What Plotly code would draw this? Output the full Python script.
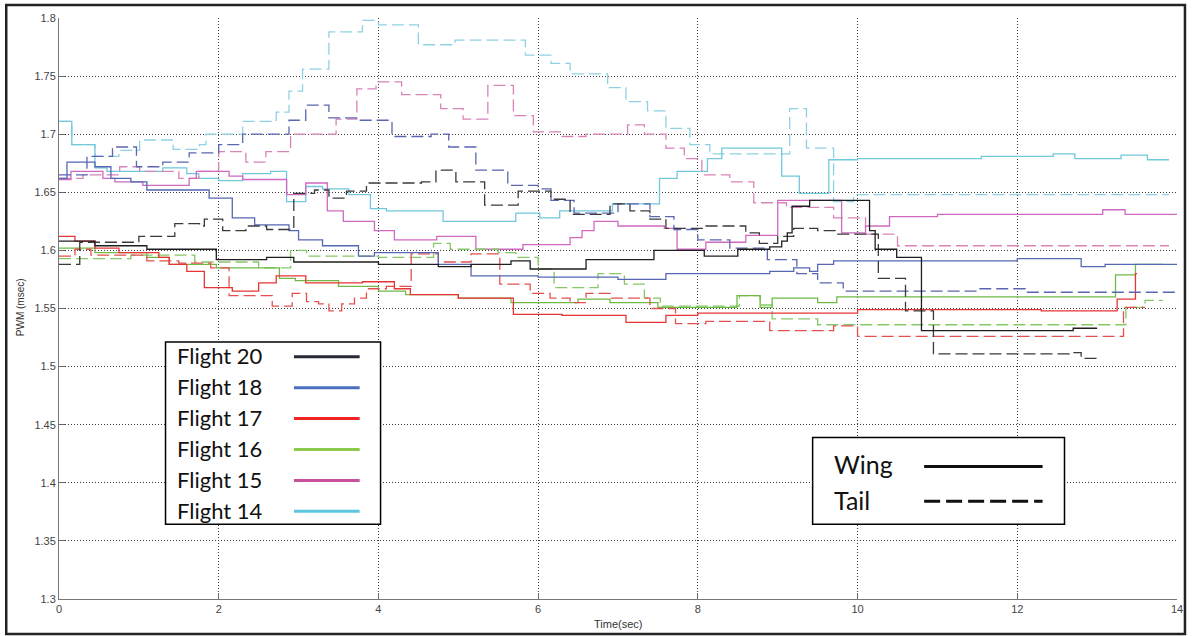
import plotly.graph_objects as go

# ---- step data: switch times (sec) and PWM levels (msec) ----
f20_wing_t = [0, 0.45, 1.1, 1.97, 2.6, 2.94, 4.0, 4.75, 5.16, 5.66, 5.9, 6.6, 7.45, 8.08, 8.5, 8.9, 9.05, 9.12, 9.18, 9.4, 10.15, 10.22, 10.49, 10.8, 12.7, 13.0]
f20_wing_v = [1.608, 1.604, 1.601, 1.592, 1.594, 1.590, 1.588, 1.586, 1.588, 1.591, 1.584, 1.592, 1.600, 1.595, 1.601, 1.603, 1.608, 1.615, 1.638, 1.643, 1.617, 1.601, 1.594, 1.531, 1.533, 1.533]
f20_tail_t = [0, 0.26, 1.0, 1.45, 1.76, 1.82, 2.05, 2.34, 2.6, 2.94, 3.2, 3.38, 3.6, 3.85, 4.54, 4.72, 4.97, 5.33, 5.75, 6.16, 6.4, 6.9, 7.15, 7.4, 7.6, 8.1, 8.6, 8.77, 9.0, 9.2, 9.5, 9.74, 10.26, 10.6, 10.95, 12.65, 12.8, 13.0]
f20_tail_v = [1.588, 1.607, 1.612, 1.623, 1.621, 1.627, 1.617, 1.621, 1.618, 1.649, 1.652, 1.645, 1.651, 1.658, 1.659, 1.669, 1.659, 1.639, 1.651, 1.644, 1.631, 1.640, 1.634, 1.627, 1.619, 1.621, 1.615, 1.606, 1.612, 1.619, 1.617, 1.614, 1.576, 1.548, 1.511, 1.512, 1.507, 1.507]

f18_wing_t = [0, 0.1, 0.45, 0.65, 0.9, 1.1, 1.88, 2.17, 2.45, 2.88, 3.0, 3.3, 3.75, 3.95, 4.75, 5.16, 6.0, 7.0, 7.6, 8.0, 8.9, 9.2, 9.4, 9.5, 9.7, 12.0, 12.8, 13.1, 14.0]
f18_wing_v = [1.662, 1.676, 1.672, 1.662, 1.659, 1.652, 1.645, 1.628, 1.622, 1.617, 1.609, 1.604, 1.595, 1.598, 1.588, 1.578, 1.577, 1.575, 1.580, 1.580, 1.582, 1.585, 1.582, 1.588, 1.591, 1.593, 1.586, 1.588, 1.588]
f18_tail_t = [0, 0.35, 0.67, 0.97, 1.3, 1.63, 2.0, 2.3, 2.88, 3.09, 3.38, 3.75, 4.17, 4.66, 4.88, 5.22, 5.62, 6.0, 6.16, 6.45, 7.0, 7.4, 7.7, 8.0, 8.4, 8.87, 9.24, 9.5, 9.82, 11.5, 12.1, 14.0]
f18_tail_v = [1.665, 1.681, 1.689, 1.672, 1.676, 1.684, 1.691, 1.700, 1.712, 1.725, 1.714, 1.712, 1.698, 1.700, 1.689, 1.669, 1.656, 1.653, 1.643, 1.632, 1.640, 1.629, 1.618, 1.609, 1.602, 1.592, 1.580, 1.572, 1.565, 1.567, 1.564, 1.564]

f17_wing_t = [0, 0.2, 0.45, 0.75, 1.25, 1.38, 1.6, 1.82, 2.17, 2.5, 2.72, 3.09, 3.8, 4.2, 4.4, 5.0, 5.69, 6.3, 7.1, 7.6, 8.0, 10.0, 12.3, 13.25, 13.48, 13.5]
f17_wing_v = [1.612, 1.608, 1.602, 1.598, 1.594, 1.588, 1.582, 1.568, 1.565, 1.572, 1.578, 1.572, 1.573, 1.567, 1.562, 1.559, 1.545, 1.544, 1.538, 1.544, 1.546, 1.549, 1.548, 1.558, 1.580, 1.580]
f17_tail_t = [0, 0.2, 0.4, 1.1, 1.5, 1.9, 2.13, 2.67, 2.92, 3.1, 3.25, 3.38, 3.54, 3.7, 3.85, 4.1, 4.41, 4.75, 5.16, 5.52, 5.9, 6.15, 6.4, 6.6, 6.9, 7.4, 7.72, 8.1, 8.9, 9.7, 10.0, 13.33, 13.6]
f17_tail_v = [1.595, 1.601, 1.596, 1.591, 1.589, 1.585, 1.561, 1.552, 1.563, 1.556, 1.554, 1.548, 1.554, 1.559, 1.567, 1.569, 1.597, 1.590, 1.597, 1.571, 1.563, 1.559, 1.555, 1.563, 1.559, 1.550, 1.537, 1.539, 1.531, 1.535, 1.526, 1.551, 1.551]

f16_wing_t = [0, 0.45, 1.1, 1.38, 1.97, 2.76, 2.96, 3.5, 4.0, 4.34, 5.0, 5.66, 6.5, 6.9, 7.5, 8.49, 8.78, 8.93, 9.5, 9.74, 13.23, 13.48, 13.82]
f16_wing_v = [1.602, 1.598, 1.594, 1.588, 1.585, 1.576, 1.574, 1.569, 1.565, 1.562, 1.559, 1.555, 1.558, 1.555, 1.551, 1.561, 1.551, 1.559, 1.555, 1.560, 1.579, 1.588, 1.588]
f16_tail_t = [0, 0.9, 1.7, 2.5, 2.9, 3.1, 4.0, 4.69, 4.9, 5.5, 5.72, 6.0, 6.2, 6.75, 7.08, 7.33, 7.53, 8.52, 8.78, 8.93, 9.5, 13.36, 13.6, 13.82]
f16_tail_v = [1.593, 1.596, 1.590, 1.585, 1.600, 1.595, 1.594, 1.606, 1.601, 1.598, 1.594, 1.584, 1.568, 1.580, 1.571, 1.559, 1.552, 1.561, 1.553, 1.541, 1.536, 1.551, 1.557, 1.557]

f15_wing_t = [0, 0.15, 0.55, 0.7, 1.05, 1.63, 1.72, 2.13, 2.3, 2.85, 3.09, 3.36, 3.56, 3.95, 4.2, 4.73, 5.22, 5.81, 6.4, 6.55, 6.7, 7.0, 7.58, 7.74, 8.1, 8.6, 9.0, 9.8, 10.1, 10.4, 11.0, 13.07, 13.35, 14.0]
f15_wing_v = [1.661, 1.668, 1.662, 1.659, 1.656, 1.662, 1.668, 1.664, 1.661, 1.648, 1.658, 1.634, 1.625, 1.617, 1.609, 1.612, 1.601, 1.605, 1.611, 1.617, 1.625, 1.621, 1.619, 1.601, 1.607, 1.613, 1.643, 1.615, 1.621, 1.629, 1.631, 1.635, 1.631, 1.631]
f15_tail_t = [0, 0.3, 0.76, 1.01, 1.5, 1.75, 2.0, 2.34, 2.59, 2.9, 3.47, 3.73, 3.97, 4.29, 4.78, 5.06, 5.37, 5.69, 5.94, 6.3, 6.6, 7.12, 7.33, 7.6, 7.83, 8.05, 8.4, 8.7, 9.11, 9.7, 10.1, 10.5, 13.9]
f15_tail_v = [1.662, 1.665, 1.672, 1.668, 1.662, 1.668, 1.685, 1.676, 1.685, 1.700, 1.713, 1.739, 1.745, 1.734, 1.722, 1.713, 1.742, 1.716, 1.702, 1.698, 1.700, 1.708, 1.700, 1.688, 1.679, 1.665, 1.659, 1.641, 1.637, 1.628, 1.614, 1.604, 1.604]

f14_wing_t = [0, 0.16, 0.45, 0.6, 1.3, 1.6, 1.75, 2.0, 2.3, 2.65, 2.85, 3.09, 3.3, 3.63, 3.9, 4.1, 4.81, 5.72, 6.02, 6.27, 6.93, 7.52, 7.74, 8.12, 8.3, 9.05, 9.27, 9.64, 10.0, 11.55, 12.45, 12.72, 13.3, 13.63, 13.9]
f14_wing_v = [1.711, 1.691, 1.671, 1.668, 1.671, 1.666, 1.662, 1.660, 1.666, 1.668, 1.642, 1.655, 1.653, 1.648, 1.636, 1.634, 1.625, 1.632, 1.628, 1.634, 1.640, 1.662, 1.668, 1.679, 1.688, 1.664, 1.649, 1.678, 1.679, 1.681, 1.683, 1.679, 1.682, 1.678, 1.678]
f14_tail_t = [0, 0.16, 0.45, 0.75, 1.01, 1.43, 1.76, 1.84, 2.3, 2.72, 2.88, 3.05, 3.38, 3.8, 4.0, 4.5, 4.96, 5.84, 6.16, 6.4, 6.87, 7.1, 7.37, 7.6, 7.9, 8.15, 9.15, 9.36, 9.7, 9.95, 13.9]
f14_tail_v = [1.711, 1.691, 1.681, 1.686, 1.695, 1.687, 1.691, 1.700, 1.711, 1.719, 1.737, 1.756, 1.788, 1.798, 1.794, 1.777, 1.781, 1.768, 1.761, 1.752, 1.740, 1.728, 1.720, 1.705, 1.691, 1.683, 1.722, 1.688, 1.642, 1.648, 1.648]

flight_names = ["Flight 20", "Flight 18", "Flight 17", "Flight 16", "Flight 15", "Flight 14"]
x_ticks = [0, 2, 4, 6, 8, 10, 12, 14]
y_ticks = [1.3, 1.35, 1.4, 1.45, 1.5, 1.55, 1.6, 1.65, 1.7, 1.75, 1.8]
y_tick_text = ["1.3", "1.35", "1.4", "1.45", "1.5", "1.55", "1.6", "1.65", "1.7", "1.75", "1.8"]

# plot colours (wing, tail) and legend swatch colours
line_colors = {
    "Flight 20": ("#1e1e1e", "#3a3a3a"),
    "Flight 18": ("#5468b4", "#5a66b0"),
    "Flight 17": ("#e83434", "#e45050"),
    "Flight 16": ("#6fba45", "#86c866"),
    "Flight 15": ("#d06ac0", "#d884b8"),
    "Flight 14": ("#72c8dc", "#8ed2e2"),
}
swatch_colors = ["#262a36", "#4a6fc0", "#f02424", "#8cc84b", "#c9509d", "#5cc5e0"]

series = [
    ("Flight 14", f14_wing_t, f14_wing_v, f14_tail_t, f14_tail_v),
    ("Flight 15", f15_wing_t, f15_wing_v, f15_tail_t, f15_tail_v),
    ("Flight 16", f16_wing_t, f16_wing_v, f16_tail_t, f16_tail_v),
    ("Flight 17", f17_wing_t, f17_wing_v, f17_tail_t, f17_tail_v),
    ("Flight 18", f18_wing_t, f18_wing_v, f18_tail_t, f18_tail_v),
    ("Flight 20", f20_wing_t, f20_wing_v, f20_tail_t, f20_tail_v),
]

fig = go.Figure()
for name, wt, wv, tt, tv in series:
    wc, tc = line_colors[name]
    fig.add_trace(go.Scatter(x=tt, y=tv, mode="lines", line_shape="hv", name=name + " tail",
                             line=dict(color=tc, width=1.3, dash="12px,5px"), showlegend=False))
    fig.add_trace(go.Scatter(x=wt, y=wv, mode="lines", line_shape="hv", name=name + " wing",
                             line=dict(color=wc, width=1.3), showlegend=False))

W, H = 1195, 636
L, R, T, B = 59, 1182, 16, 599


def px(x):
    return (x - L) / (R - L)


def py(y):
    return (B - y) / (B - T)


shapes = []
annotations = []

# outer frame around the whole figure
shapes.append(dict(type="rect", xref="paper", yref="paper", x0=px(6), x1=px(1190), y0=py(634), y1=py(3),
                   line=dict(color="#222222", width=2.5), layer="below"))

# flight colour key
shapes.append(dict(type="rect", xref="paper", yref="paper", x0=px(166), x1=px(382), y0=py(524), y1=py(341),
                   line=dict(color="#000000", width=1.5), fillcolor="white", layer="above"))
row_y = [355, 386, 417, 448, 479, 510]
for name, col, ry in zip(flight_names, swatch_colors, row_y):
    annotations.append(dict(xref="paper", yref="paper", x=px(176), y=py(ry), text=name, showarrow=False,
                            xanchor="left", yanchor="middle", font=dict(family="Lato", size=22, color="#111111")))
    shapes.append(dict(type="line", xref="paper", yref="paper", x0=px(295), x1=px(361), y0=py(ry + 1), y1=py(ry + 1),
                       line=dict(color=col, width=3)))

# wing / tail style key
shapes.append(dict(type="rect", xref="paper", yref="paper", x0=px(816), x1=px(1069), y0=py(524), y1=py(437),
                   line=dict(color="#000000", width=1.5), fillcolor="white", layer="above"))
annotations.append(dict(xref="paper", yref="paper", x=px(835), y=py(464), text="Wing", showarrow=False,
                        xanchor="left", yanchor="middle", font=dict(family="Lato", size=25, color="#111111")))
annotations.append(dict(xref="paper", yref="paper", x=px(835), y=py(500), text="Tail", showarrow=False,
                        xanchor="left", yanchor="middle", font=dict(family="Lato", size=25, color="#111111")))
shapes.append(dict(type="line", xref="paper", yref="paper", x0=px(928), x1=px(1047), y0=py(466), y1=py(466),
                   line=dict(color="#111111", width=3)))
shapes.append(dict(type="line", xref="paper", yref="paper", x0=px(928), x1=px(1047), y0=py(501), y1=py(501),
                   line=dict(color="#111111", width=3, dash="16px,6px")))

# axis titles
annotations.append(dict(xref="paper", yref="paper", x=0.5, y=py(624), text="Time(sec)", showarrow=False,
                        xanchor="center", yanchor="middle", font=dict(family="Liberation Sans", size=11, color="#333333")))
annotations.append(dict(xref="paper", yref="paper", x=px(20), y=py(306), text="PWM (msec)", showarrow=False,
                        textangle=-90, xanchor="center", yanchor="middle",
                        font=dict(family="Liberation Sans", size=10, color="#333333")))

fig.update_layout(
    width=W, height=H,
    margin=dict(l=L, r=W - R, t=T, b=H - B),
    paper_bgcolor="white", plot_bgcolor="white",
    showlegend=False,
    shapes=shapes, annotations=annotations,
    font=dict(family="Liberation Sans", size=11, color="#444444"),
)
grid_style = dict(showgrid=True, gridcolor="#3a3a3a", gridwidth=1, griddash="1px,2px", zeroline=False)
fig.update_xaxes(range=[0, 14], tickvals=x_ticks, ticks="inside", ticklen=6, tickcolor="#666666",
                 showline=True, linecolor="#777777", linewidth=1, mirror=False,
                 tickfont=dict(family="Liberation Sans", size=11, color="#444444"), **grid_style)
fig.update_yaxes(range=[1.3, 1.8], tickvals=y_ticks, ticktext=y_tick_text, ticks="inside", ticklen=6,
                 tickcolor="#666666", showline=True, linecolor="#777777", linewidth=1, mirror=False,
                 tickfont=dict(family="Liberation Sans", size=11, color="#444444"), **grid_style)

fig.write_html("out.html")
